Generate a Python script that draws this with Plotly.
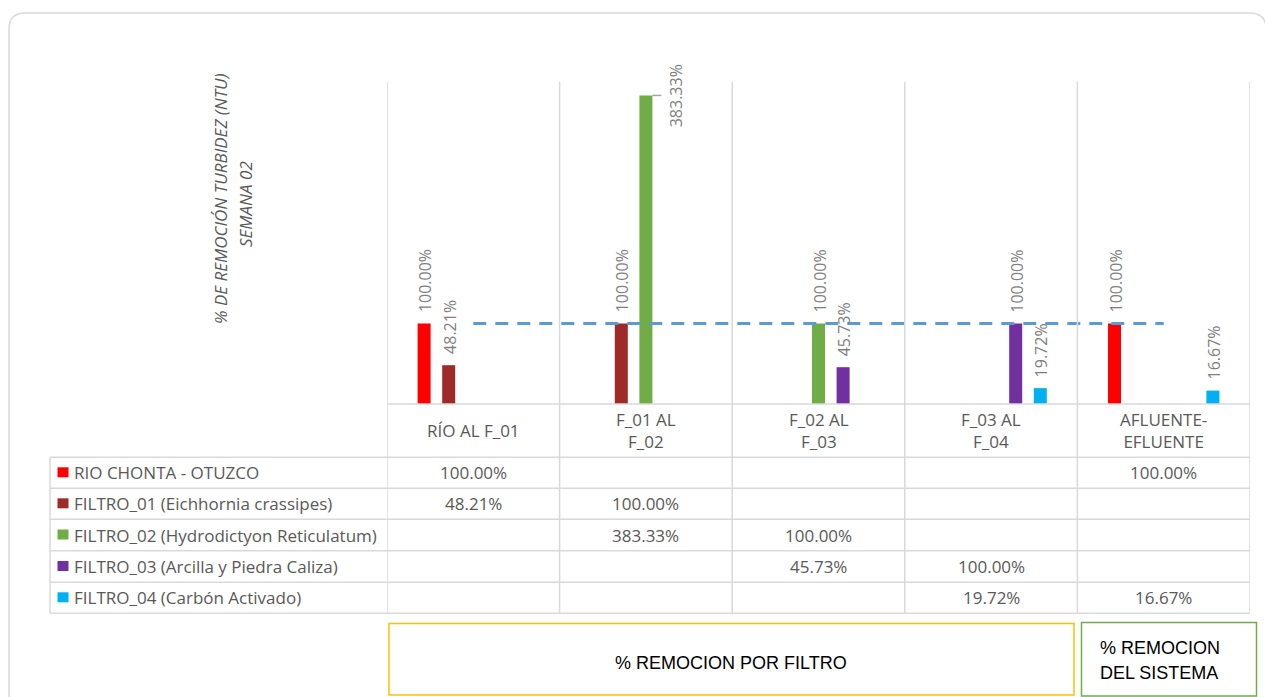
import plotly.graph_objects as go

# ---------------- data ----------------
categories = ["RÍO AL F_01", "F_01 AL F_02", "F_02 AL F_03", "F_03 AL F_04", "AFLUENTE-EFLUENTE"]
header_labels = ["RÍO AL F_01", "F_01 AL<br>F_02", "F_02 AL<br>F_03", "F_03 AL<br>F_04", "AFLUENTE-<br>EFLUENTE"]

series_names = [
    "RIO CHONTA - OTUZCO",
    "FILTRO_01 (Eichhornia crassipes)",
    "FILTRO_02 (Hydrodictyon Reticulatum)",
    "FILTRO_03 (Arcilla y Piedra Caliza)",
    "FILTRO_04 (Carbón Activado)",
]
rio_chonta = [100.00, None, None, None, 100.00]
filtro_01 = [48.21, 100.00, None, None, None]
filtro_02 = [None, 383.33, 100.00, None, None]
filtro_03 = [None, None, 45.73, 100.00, None]
filtro_04 = [None, None, None, 19.72, 16.67]
reference_100 = [100, 100, 100, 100, 100]

series_values = [rio_chonta, filtro_01, filtro_02, filtro_03, filtro_04]
series_colors = ["#FF0000", "#9E2B27", "#70AD47", "#7030A0", "#00B0F0"]

title_line1 = "% DE REMOCIÓN TURBIDEZ (NTU)"
title_line2 = "SEMANA 02"
box1_text = "% REMOCION POR FILTRO"
box2_lines = ["% REMOCION", "DEL SISTEMA"]

# ---------------- layout geometry (pixels) ----------------
W, H = 1265, 697
PL, PR, PT, PB = 387, 1250, 82, 404          # plot area
PW, PH = PR - PL, PB - PT
YMAX = 400
BARGAP = 0.2875
BARGROUPGAP = 0.471
NS = len(series_values)
slot = (1 - BARGAP) / NS
cat_px = PW / len(categories)


def px(x):
    return (x - PL) / PW


def py(y):
    return (PB - y) / PH


GRID = "#D9D9D9"
TXT = "#595959"
LBL = "#7F7F7F"
FONT = "Open Sans, DejaVu Sans, sans-serif"
NARROW = "Liberation Sans Narrow, Arial Narrow, Liberation Sans, sans-serif"
FS = 17
FS_LBL = 16

fig = go.Figure()

for name, vals, col in zip(series_names, series_values, series_colors):
    fig.add_trace(go.Bar(x=categories, y=vals, name=name, marker_color=col,
                         marker_line_width=0, showlegend=False))

fig.add_trace(go.Scatter(x=categories, y=reference_100, mode="lines",
                         line=dict(color="#5B9BD5", width=3, dash="13px,9px"),
                         showlegend=False, hoverinfo="skip"))

shapes = []
annotations = []

# data labels
label_px = 80
for i, vals in enumerate(series_values):
    for j, v in enumerate(vals):
        if v is None:
            continue
        xpos = j + (i - (NS - 1) / 2) * slot
        text = f"{v:.2f}%"
        if v / YMAX * PH + label_px > PH:
            half_bar = slot * (1 - BARGROUPGAP) / 2
            annotations.append(dict(x=xpos, y=v, xref="x", yref="y", text=text,
                                    textangle=-90, showarrow=False, xanchor="center",
                                    yanchor="middle", xshift=31,
                                    font=dict(family=FONT, size=FS_LBL, color=LBL)))
            shapes.append(dict(type="line", xref="x", yref="y", x0=xpos + half_bar,
                               x1=xpos + half_bar + 9 / cat_px, y0=v, y1=v,
                               line=dict(color="#A6A6A6", width=1.5)))
        else:
            annotations.append(dict(x=xpos, y=v, xref="x", yref="y", text=text,
                                    textangle=-90, showarrow=False, xanchor="center",
                                    yanchor="bottom", yshift=9, xshift=1,
                                    font=dict(family=FONT, size=FS_LBL, color=LBL)))

# outer rounded border
r = 16
x0b, y0b, x1b, y1b = 9, 13, 1266, 720
path = (f"M {px(x0b)},{py(y1b)} L {px(x0b)},{py(y0b + r)} "
        f"Q {px(x0b)},{py(y0b)} {px(x0b + r)},{py(y0b)} "
        f"L {px(x1b - r)},{py(y0b)} Q {px(x1b)},{py(y0b)} {px(x1b)},{py(y0b + r)} "
        f"L {px(x1b)},{py(y1b)}")
shapes.append(dict(type="path", xref="paper", yref="paper", path=path,
                   line=dict(color="#D9D9D9", width=1.5)))

# table geometry
TL = 50
row_lines = [457.3, 488.3, 519.3, 550.7, 582.3, 613.3]
TB = row_lines[-1]

# vertical separators
for j in range(len(categories) + 1):
    shapes.append(dict(type="line", xref="x", yref="paper", x0=j - 0.5, x1=j - 0.5,
                       y0=py(TB), y1=1, line=dict(color=GRID, width=1.5)))
shapes.append(dict(type="line", xref="paper", yref="paper", x0=px(TL), x1=px(TL),
                   y0=py(row_lines[0]), y1=py(TB), line=dict(color=GRID, width=1.5)))
# baseline
shapes.append(dict(type="line", xref="paper", yref="paper", x0=0, x1=1, y0=0, y1=0,
                   line=dict(color=GRID, width=1.5)))
for yl in row_lines:
    shapes.append(dict(type="line", xref="paper", yref="paper", x0=px(TL), x1=1,
                       y0=py(yl), y1=py(yl), line=dict(color=GRID, width=1.5)))

# header labels
for j, lab in enumerate(header_labels):
    annotations.append(dict(x=j, y=py((PB + row_lines[0]) / 2), xref="x", yref="paper",
                            text=lab, showarrow=False, xanchor="center", yanchor="middle",
                            font=dict(family=FONT, size=FS, color=TXT)))

# rows
for i, (name, vals, col) in enumerate(zip(series_names, series_values, series_colors)):
    yc = (row_lines[i] + row_lines[i + 1]) / 2
    shapes.append(dict(type="rect", xref="paper", yref="paper", x0=px(57.5), x1=px(68.5),
                       y0=py(yc - 5.5), y1=py(yc + 4.5), fillcolor=col, line=dict(width=0)))
    annotations.append(dict(x=px(72), y=py(yc), xref="paper", yref="paper", text=name,
                            showarrow=False, xanchor="left", yanchor="middle",
                            font=dict(family=FONT, size=FS, color=TXT)))
    for j, v in enumerate(vals):
        if v is None:
            continue
        annotations.append(dict(x=j, y=py(yc), xref="x", yref="paper", text=f"{v:.2f}%",
                                showarrow=False, xanchor="center", yanchor="middle",
                                font=dict(family=FONT, size=FS, color=TXT)))

# title (rotated, two lines)
annotations.append(dict(x=px(220), y=py(199), xref="paper", yref="paper", text=title_line1,
                        textangle=-90, showarrow=False, xanchor="center", yanchor="middle",
                        font=dict(family=FONT, size=FS, color=TXT, style="italic")))
annotations.append(dict(x=px(245), y=py(204), xref="paper", yref="paper", text=title_line2,
                        textangle=-90, showarrow=False, xanchor="center", yanchor="middle",
                        font=dict(family=FONT, size=FS, color=TXT, style="italic")))

# bottom boxes
shapes.append(dict(type="rect", xref="paper", yref="paper", x0=px(389), x1=px(1074),
                   y0=py(695), y1=py(623.5), line=dict(color="#FFC000", width=1.5)))
shapes.append(dict(type="rect", xref="paper", yref="paper", x0=px(1081.5), x1=px(1256.5),
                   y0=py(696), y1=py(622.5), line=dict(color="#70AD47", width=1.5)))
annotations.append(dict(x=px(731), y=py(663), xref="paper", yref="paper", text=box1_text,
                        showarrow=False, xanchor="center", yanchor="middle",
                        font=dict(family=NARROW, size=18, color="#000000")))
for k, line in enumerate(box2_lines):
    annotations.append(dict(x=px(1098), y=py(648 + 25 * k), xref="paper", yref="paper",
                            text=line, showarrow=False, xanchor="left", yanchor="middle",
                            font=dict(family=NARROW, size=18, color="#000000")))

fig.update_layout(
    width=W, height=H,
    margin=dict(l=PL, r=W - PR, t=PT, b=H - PB, pad=0),
    paper_bgcolor="white", plot_bgcolor="white",
    barmode="group", bargap=BARGAP, bargroupgap=BARGROUPGAP,
    xaxis=dict(type="category", range=[-0.5, len(categories) - 0.5], showticklabels=False,
               showgrid=False, zeroline=False, showline=False, ticks=""),
    yaxis=dict(range=[0, YMAX], visible=False, showgrid=False, zeroline=False),
    shapes=shapes, annotations=annotations, showlegend=False,
)

fig.write_html("out.html", config={"displayModeBar": False},
               post_script="document.body.style.margin='0';document.body.style.overflow='hidden';")
